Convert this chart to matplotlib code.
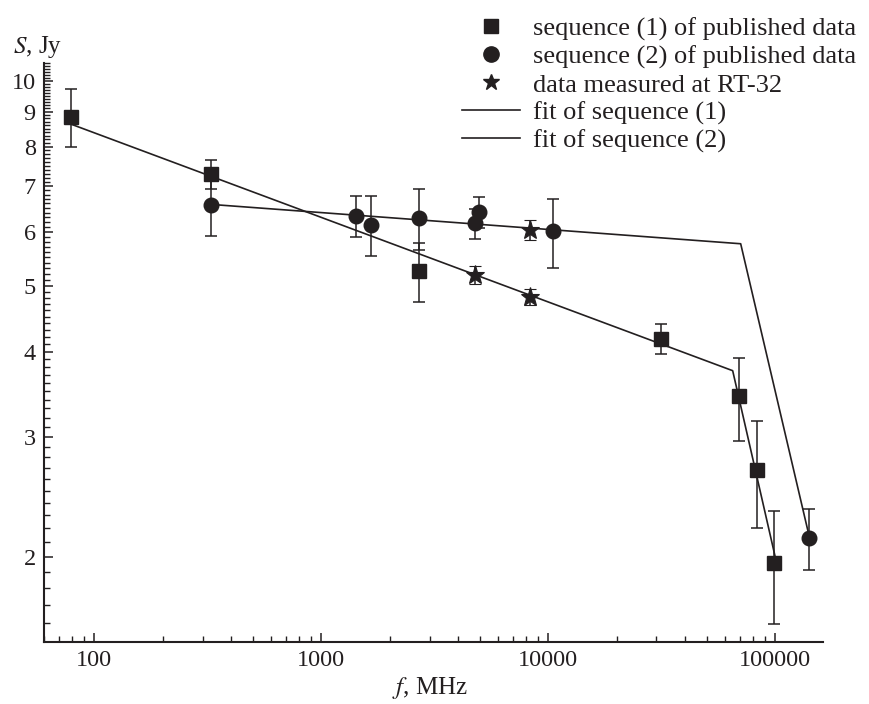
import matplotlib
matplotlib.use("Agg")
import matplotlib.pyplot as plt
from matplotlib.lines import Line2D
from matplotlib.ticker import FixedLocator, NullFormatter, LogLocator
import numpy as np

plt.rcParams["font.family"] = ["Liberation Serif", "DejaVu Serif"]
plt.rcParams["mathtext.fontset"] = "stix"

# sequence (1) of published data
seq1_f = [79, 326, 2700, 31500, 69000, 83000, 99000]
seq1_S = [8.85, 7.28, 5.25, 4.18, 3.44, 2.68, 1.96]
seq1_err = [0.87, 0.36, 0.52, 0.21, 0.48, 0.48, 0.37]

# sequence (2) of published data
seq2_f = [326, 1420, 1650, 2700, 4750, 4950, 10500, 141000]
seq2_S = [6.56, 6.33, 6.14, 6.28, 6.17, 6.41, 6.01, 2.13]
seq2_err = [0.65, 0.43, 0.62, 0.64, 0.31, 0.34, 0.70, 0.22]

# RT-32 measurements
rt32_f = [4750, 8300, 8300]
rt32_S = [5.18, 4.81, 6.04]
rt32_err = [0.16, 0.13, 0.21]

# broken power-law fits
fit1_f = [79, 65000, 100000]
fit1_S = [8.63, 3.75, 2.0]
fit2_f = [326, 70500, 140000]
fit2_S = [6.58, 5.76, 2.17]

ink = "#231f20"

fig = plt.figure(figsize=(8.69, 7.04), dpi=100)
ax = fig.add_axes([0.0506, 0.0885, 0.8961, 0.8215])

# fits
ax.plot(fit1_f, fit1_S, color=ink, lw=1.2, zorder=2)
ax.plot(fit2_f, fit2_S, color=ink, lw=1.2, zorder=2)

# data with error bars
eb = dict(ecolor=ink, elinewidth=1.1, capsize=4.5, capthick=1.1, linestyle="none", zorder=3)
ax.errorbar(seq1_f, seq1_S, yerr=seq1_err, fmt="s", ms=9.5, mfc=ink, mec=ink, **eb)
ax.errorbar(seq2_f, seq2_S, yerr=seq2_err, fmt="o", ms=10.5, mfc=ink, mec=ink, **eb)
ax.errorbar(rt32_f, rt32_S, yerr=rt32_err, fmt="*", ms=14, mfc=ink, mec=ink,
            mew=0.8, **eb)

ax.set_xscale("log")
ax.set_yscale("log")
ax.set_xlim(60, 162000)
ax.set_ylim(1.5, 10.6)

# ticks
ax.xaxis.set_major_locator(FixedLocator([100, 1000, 10000, 100000]))
ax.xaxis.set_minor_locator(LogLocator(base=10, subs=np.arange(2, 10)))
ax.set_xticklabels(["100", "1000", "10000", "100000"])
ax.xaxis.set_minor_formatter(NullFormatter())

ymaj = [2, 3, 4, 5, 6, 7, 8, 9, 10]
ax.yaxis.set_major_locator(FixedLocator(ymaj))
ax.set_yticklabels([str(v) for v in ymaj])
ax.yaxis.set_minor_locator(FixedLocator(np.round(np.arange(1.6, 10.61, 0.1), 2)))
ax.yaxis.set_minor_formatter(NullFormatter())

ax.tick_params(which="both", direction="in", colors=ink, labelsize=17.5)
ax.tick_params(which="major", length=6.5, width=1.1)
ax.tick_params(which="minor", length=4.2, width=1.0)
ax.tick_params(axis="y", which="both", pad=6)
ax.tick_params(axis="x", which="both", pad=6)

for side in ["top", "right"]:
    ax.spines[side].set_visible(False)
for side in ["left", "bottom"]:
    ax.spines[side].set_linewidth(1.5)
    ax.spines[side].set_color(ink)

# axis labels
fig.text(38 / 869, 1 - 47 / 704, "$S$, Jy", fontsize=18, color=ink, ha="center", va="center")
fig.text(430 / 869, 1 - 688 / 704, "$f$, MHz", fontsize=18, color=ink, ha="center", va="center")

# legend
handles = [
    Line2D([], [], marker="s", ls="none", color=ink, ms=10),
    Line2D([], [], marker="o", ls="none", color=ink, ms=11),
    Line2D([], [], marker="*", ls="none", color=ink, ms=12),
    Line2D([], [], color=ink, lw=1.2),
    Line2D([], [], color=ink, lw=1.2),
]
labels = [
    "sequence (1) of published data",
    "sequence (2) of published data",
    "data measured at RT-32",
    "fit of sequence (1)",
    "fit of sequence (2)",
]
fig.legend(handles, labels, loc="upper left", bbox_to_anchor=(462 / 869, 1 - 17 / 704),
           frameon=False, fontsize=19, handlelength=2.2, handletextpad=0.5,
           labelspacing=0.16, borderpad=0, borderaxespad=0, labelcolor=ink)

fig.savefig("out.png", dpi=100)
